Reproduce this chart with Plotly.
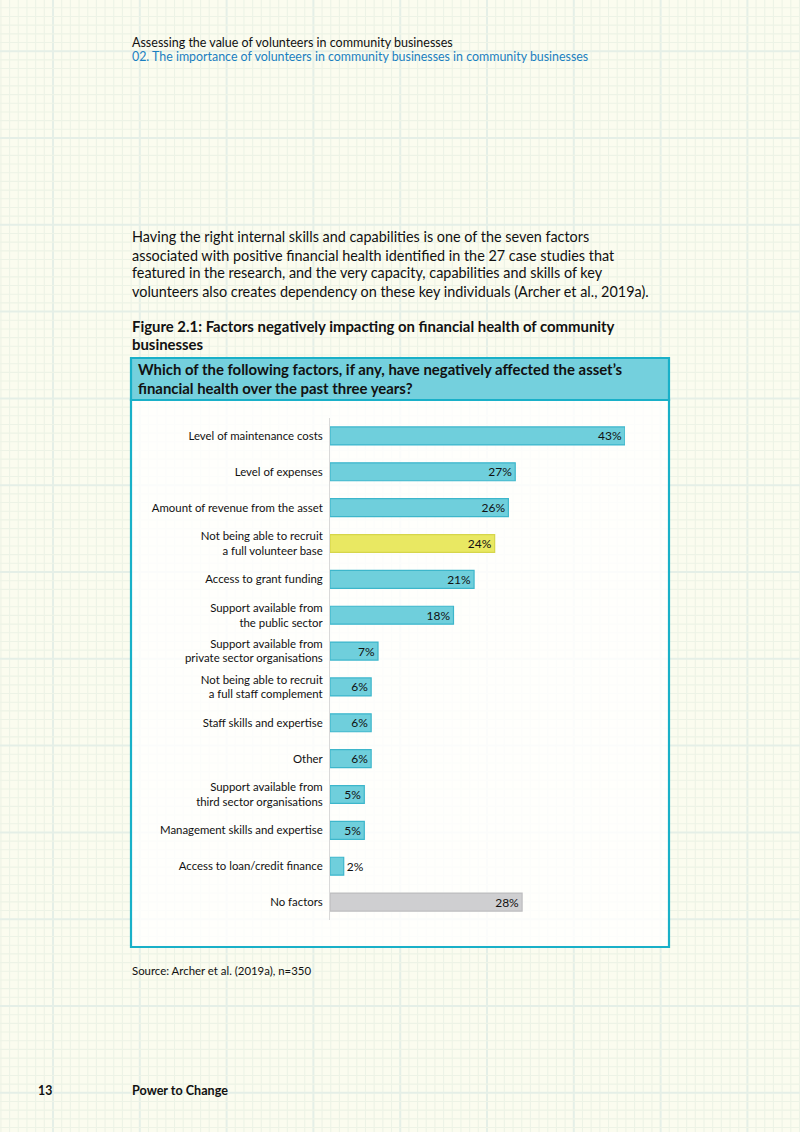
import plotly.graph_objects as go

categories = [
    "Level of maintenance costs",
    "Level of expenses",
    "Amount of revenue from the asset",
    "Not being able to recruit<br>a full volunteer base",
    "Access to grant funding",
    "Support available from<br>the public sector",
    "Support available from<br>private sector organisations",
    "Not being able to recruit<br>a full staff complement",
    "Staff skills and expertise",
    "Other",
    "Support available from<br>third sector organisations",
    "Management skills and expertise",
    "Access to loan/credit finance",
    "No factors",
]
values = [43, 27, 26, 24, 21, 18, 7, 6, 6, 6, 5, 5, 2, 28]
value_labels = [f"{v}%" for v in values]

TEAL = "#6fcfdc"
TEAL_EDGE = "#3db6cb"
YELLOW = "#e9e862"
YELLOW_EDGE = "#d6d64a"
GREY = "#cfcfd1"
GREY_EDGE = "#bdbdbf"

colors = [TEAL] * len(values)
edges = [TEAL_EDGE] * len(values)
colors[3] = YELLOW; edges[3] = YELLOW_EDGE
colors[-1] = GREY; edges[-1] = GREY_EDGE
text_pos = ["inside" if v >= 4 else "outside" for v in values]

W, H = 800, 1132
FONT = "Lato"


def px(x):
    return x / W


def py(y):
    return 1 - y / H


fig = go.Figure()
fig.add_trace(go.Bar(
    y=categories, x=values, orientation="h",
    marker=dict(color=colors, line=dict(color=edges, width=1.2)),
    width=0.5,
    text=value_labels, textposition=text_pos,
    insidetextanchor="end",
    constraintext="none",
    textfont=dict(family=FONT, size=12, color="#111111"),
    outsidetextfont=dict(family=FONT, size=12, color="#111111"),
    insidetextfont=dict(family=FONT, size=12, color="#111111"),
    cliponaxis=False,
    hoverinfo="skip",
))

shapes = []
# background grid
BG = "#fbfcef"
MINOR = "#edf3e6"
MAJOR = "#e5efe7"
step = 8.68
x0g = 53.0 - 6 * step
k = 0
x = x0g
while x < W:
    major = (k - 6) % 10 == 0
    shapes.append(dict(type="line", xref="paper", yref="paper", x0=px(x), x1=px(x), y0=0, y1=1,
                       line=dict(color=MAJOR if major else MINOR, width=2.0 if major else 1.1), layer="below"))
    k += 1
    x = x0g + k * step
y0g = 138.0 - 15 * step
k = 0
y = y0g
while y < H:
    major = (k - 15) % 10 == 0
    shapes.append(dict(type="line", xref="paper", yref="paper", x0=0, x1=1, y0=py(y), y1=py(y),
                       line=dict(color=MAJOR if major else MINOR, width=2.0 if major else 1.1), layer="below"))
    k += 1
    y = y0g + k * step

BOX_L, BOX_R = 131, 669
HEAD_T, HEAD_B, BOX_B = 358, 400, 947
# body box
shapes.append(dict(type="rect", xref="paper", yref="paper", x0=px(BOX_L), x1=px(BOX_R), y0=py(BOX_B), y1=py(HEAD_B),
                   fillcolor="rgba(255,255,255,0.82)", line=dict(color="#19b0c8", width=2.2), layer="below"))
# header band
shapes.append(dict(type="rect", xref="paper", yref="paper", x0=px(BOX_L), x1=px(BOX_R), y0=py(HEAD_B), y1=py(HEAD_T),
                   fillcolor="#74d0dd", line=dict(color="#19b0c8", width=2.2), layer="below"))

annotations = []


def add_text(x, y, text, size, color="#111111", bold=False):
    annotations.append(dict(xref="paper", yref="paper", x=px(x), y=py(y), text=f"<b>{text}</b>" if bold else text,
                            showarrow=False, xanchor="left", yanchor="middle", align="left",
                            font=dict(family=FONT, size=size, color=color)))


add_text(130, 42.5, "Assessing the value of volunteers in community businesses", 12.5)
add_text(130, 56.5, "02. The importance of volunteers in community businesses in community businesses", 12.4, color="#1a7fc1")

para = [
    "Having the right internal skills and capabilities is one of the seven factors",
    "associated with positive financial health identified in the 27 case studies that",
    "featured in the research, and the very capacity, capabilities and skills of key",
    "volunteers also creates dependency on these key individuals (Archer et al., 2019a).",
]
for i, line in enumerate(para):
    add_text(130, 237 + 18 * i, line, 14.4)

add_text(130, 326, "Figure 2.1: Factors negatively impacting on financial health of community", 14.9, bold=True)
add_text(130, 344, "businesses", 14.9, bold=True)
add_text(136, 369, "Which of the following factors, if any, have negatively affected the asset\u2019s", 14.9, bold=True)
add_text(136, 388, "financial health over the past three years?", 14.9, bold=True)

add_text(130, 970, "Source: Archer et al. (2019a), n=350", 11.4)
add_text(36, 1090, "13", 12.3, bold=True)
add_text(130, 1090, "Power to Change", 12.6, bold=True)

Y_TOP, Y_BOT = 418, 920
fig.update_layout(
    width=W, height=H,
    margin=dict(l=0, r=0, t=0, b=0),
    paper_bgcolor=BG, plot_bgcolor="rgba(0,0,0,0)",
    showlegend=False,
    shapes=shapes, annotations=annotations,
    bargap=0.5,
    xaxis=dict(domain=[px(330), px(625)], range=[0, 43], visible=False, fixedrange=True),
    yaxis=dict(domain=[py(Y_BOT), py(Y_TOP)], categoryorder="array", categoryarray=categories,
               range=[len(categories) - 0.5, -0.5], showline=True, linecolor="#d9d9d9", linewidth=1,
               showgrid=False, zeroline=False, ticks="", ticklabelstandoff=4,
               tickfont=dict(family=FONT, size=11.4, color="#111111"), fixedrange=True),
)

fig.write_html("out.html", config={"displayModeBar": False},
               post_script="document.body.style.margin='0';document.body.style.overflow='hidden';")
